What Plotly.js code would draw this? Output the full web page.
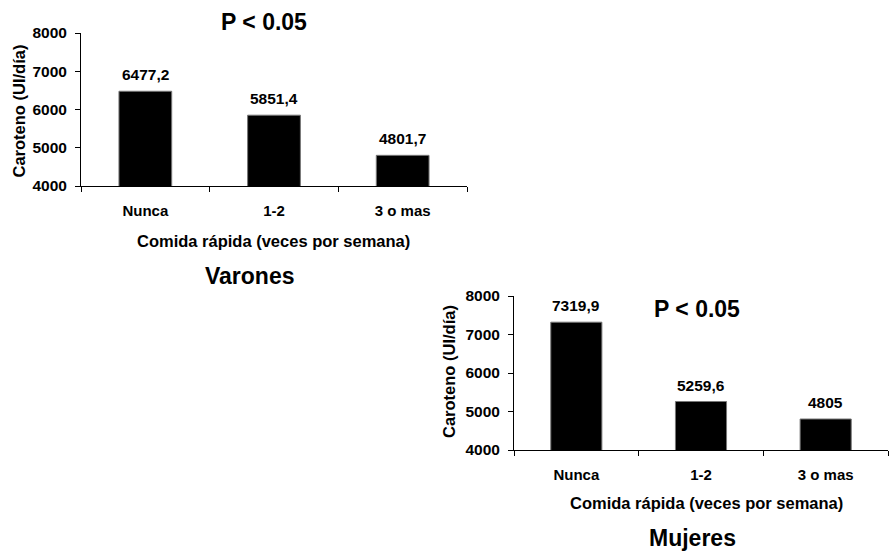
<!DOCTYPE html>
<html><head><meta charset="utf-8">
<script src="https://cdn.plot.ly/plotly-3.0.1.min.js"></script>
<style>html,body{margin:0;padding:0;background:#fff}#c{width:890px;height:553px}</style>
</head><body><div id="c"></div>
<script>
const categories = ["Nunca", "1-2", "3 o mas"];
const varonesValues = [6477.2, 5851.4, 4801.7];
const mujeresValues = [7319.9, 5259.6, 4805];
const yTicks = [4000, 5000, 6000, 7000, 8000];
const fmt = v => String(v).replace('.', ',');

const F = "Liberation Sans, Arial, sans-serif";
const bar = (vals, xa, ya) => ({type:'bar', x:categories, y:vals, xaxis:xa, yaxis:ya,
   marker:{color:'#000', line:{color:'#777', width:1}}, width:0.41, hoverinfo:'none'});
const traces = [bar(varonesValues,'x','y'), bar(mujeresValues,'x2','y2')];

const xa = {type:'category', showline:true, linecolor:'#000', linewidth:1, ticks:'outside',
  tickson:'boundaries', ticklen:5, tickcolor:'#000', showgrid:false, zeroline:false,
  ticklabelstandoff:11,
  tickfont:{family:F, size:15, color:'#000', weight:'bold'}, fixedrange:true};
const ya = {range:[4000,8000], tickvals:yTicks, showline:true, linecolor:'#000', linewidth:1,
  ticks:'outside', ticklen:5, tickcolor:'#000', showgrid:false, zeroline:false,
  ticklabelstandoff:5,
  tickfont:{family:F, size:15.5, color:'#000', weight:'bold'}, fixedrange:true};
const ann = (text, x, y, size, rot) => ({text:'<b>'+text+'</b>', x:x/890, y:1-y/553, xref:'paper', yref:'paper',
  showarrow:false, xanchor:'center', yanchor:'middle', textangle:rot||0, font:{family:F, size:size, color:'#000'}});
const valAnn = (vals, xr, yr) => vals.map((v,i) => ({text:'<b>'+fmt(v)+'</b>', x:categories[i], y:v,
  xref:xr, yref:yr, showarrow:false, xanchor:'center', yanchor:'bottom', yshift:6,
  font:{family:F, size:15.5, color:'#000'}}));
const layout = {
  width:890, height:553, margin:{l:0,r:0,t:0,b:0}, showlegend:false,
  paper_bgcolor:'#fff', plot_bgcolor:'#fff',
  xaxis:Object.assign({}, xa, {domain:[81/890, 467/890], anchor:'y'}),
  yaxis:Object.assign({}, ya, {domain:[1-186/553, 1-33/553], anchor:'x'}),
  xaxis2:Object.assign({}, xa, {domain:[514/890, 888/890], anchor:'y2'}),
  yaxis2:Object.assign({}, ya, {domain:[1-450/553, 1-296/553], anchor:'x2'}),
  annotations:[
    ann('P &lt; 0.05', 263.5, 22, 23),
    ann('Caroteno (UI/día)', 18.5, 111, 16.5, -90),
    ann('Comida rápida (veces por semana)', 273, 241, 16.5),
    ann('Varones', 250, 276, 23),
    ann('P &lt; 0.05', 696.5, 309, 23),
    ann('Caroteno (UI/día)', 449, 371, 16.5, -90),
    ann('Comida rápida (veces por semana)', 706, 503, 16.5),
    ann('Mujeres', 692.5, 538, 23)
  ].concat(valAnn(varonesValues,'x','y'), valAnn(mujeresValues,'x2','y2'))
};
Plotly.newPlot('c', traces, layout, {staticPlot:true});
</script></body></html>
